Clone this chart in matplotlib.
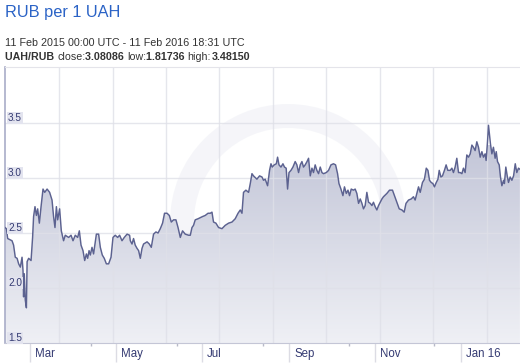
import numpy as np
import matplotlib
matplotlib.use('Agg')
import matplotlib.pyplot as plt
import matplotlib.dates as mdates
import matplotlib.transforms as mtransforms
from matplotlib.patches import Wedge
from matplotlib.colors import LinearSegmentedColormap

plt.rcParams['font.family'] = ['Liberation Sans', 'DejaVu Sans']

'''data: days after 11 Feb 2015 00:00 UTC and UAH/RUB rate'''
days = [0.0, 1.0, 1.9, 5.0, 6.1, 7.3, 8.6, 9.7, 10.9, 12.1, 12.8, 13.2, 13.7, 14.4, 15.2,
        15.7, 16.8, 18.5, 19.6, 20.3, 21.3, 22.3, 23.2, 24.4, 25.6, 27.0, 28.2, 29.9,
        31.7, 33.4, 34.5, 35.5, 36.5, 37.4, 38.8, 40.0, 41.6, 42.8, 45.2, 46.9, 48.3,
        49.9, 51.6, 52.8, 54.0, 55.4, 56.6, 57.8, 58.7, 59.7, 60.6, 61.8, 62.9, 64.9,
        66.5, 67.7, 69.1, 70.5, 72.0, 73.6, 75.3, 76.7, 78.3, 80.0, 81.4, 83.1, 84.7,
        86.7, 88.5, 89.0, 90.2, 91.3, 92.5, 93.8, 94.9, 96.1, 97.3, 98.4, 100.9, 102.5,
        103.9, 105.5, 107.2, 108.7, 110.3, 111.9, 113.3, 115.1, 116.7, 118.1, 119.7,
        121.4, 122.9, 124.5, 126.1, 128.0, 130.4, 131.6, 132.8, 133.9, 135.1, 137.1,
        138.7, 140.3, 142.2, 144.2, 145.8, 147.0, 148.1, 149.8, 151.7, 154.1, 156.4,
        158.8, 161.2, 163.5, 165.5, 167.1, 168.3, 169.4, 171.1, 173.0, 174.2, 175.4,
        176.5, 178.9, 180.8, 182.5, 183.6, 184.8, 186.5, 187.9, 188.9, 189.8, 191.2,
        192.7, 193.6, 194.6, 196.0, 197.4, 198.5, 199.7, 200.7, 201.7, 203.1, 204.5,
        206.1, 207.3, 208.5, 209.7, 210.9, 212.0, 213.2, 214.5, 215.6, 216.8, 218.0,
        219.1, 220.3, 221.5, 222.7, 223.9, 225.1, 226.2, 228.2, 229.8, 231.5, 233.3,
        234.8, 236.2, 237.2, 238.6, 240.0, 241.1, 242.4, 243.6, 244.7, 245.9, 247.5,
        248.7, 249.9, 251.1, 252.3, 253.5, 254.6, 255.8, 257.0, 258.2, 259.4, 260.6,
        261.7, 262.9, 264.1, 265.3, 266.5, 267.7, 268.8, 271.2, 273.1, 275.2, 276.6,
        278.3, 280.0, 281.9, 283.5, 284.8, 286.6, 288.5, 290.1, 291.3, 292.5, 293.7,
        294.9, 296.5, 297.9, 299.2, 300.4, 301.5, 302.7, 303.9, 305.0, 306.3, 307.5,
        308.4, 309.6, 310.7, 312.1, 313.3, 314.5, 316.2, 317.4, 318.5, 319.7, 320.9,
        322.1, 323.3, 324.5, 325.6, 326.8, 328.0, 329.2, 330.4, 331.6, 332.7, 333.9,
        335.1, 336.3, 337.5, 338.7, 339.8, 341.0, 341.7, 342.7, 343.4, 344.1, 344.8,
        345.8, 346.9, 348.1, 348.9, 349.8, 351.0, 351.9, 352.9, 354.1, 354.7, 355.7,
        356.7, 357.6, 358.8, 360.0, 361.2, 362.4, 363.5, 364.7, 365.7]
rate = [2.55, 2.54, 2.45, 2.43, 2.39, 2.28, 2.27, 2.22, 2.19, 2.28, 2.16, 1.92, 2.13, 1.89, 1.82,
        2.24, 2.27, 2.25, 2.46, 2.65, 2.74, 2.66, 2.72, 2.59, 2.74, 2.90, 2.87, 2.90,
        2.87, 2.80, 2.65, 2.55, 2.74, 2.62, 2.72, 2.52, 2.43, 2.48, 2.46, 2.48, 2.43,
        2.48, 2.46, 2.52, 2.39, 2.34, 2.25, 2.31, 2.27, 2.34, 2.30, 2.37, 2.31, 2.49,
        2.49, 2.37, 2.30, 2.27, 2.22, 2.22, 2.28, 2.46, 2.48, 2.46, 2.48, 2.43, 2.46,
        2.49, 2.48, 2.43, 2.40, 2.45, 2.39, 2.36, 2.34, 2.27, 2.36, 2.40, 2.42, 2.40,
        2.37, 2.49, 2.51, 2.50, 2.54, 2.59, 2.68, 2.68, 2.66, 2.60, 2.62,
        2.62, 2.55, 2.46, 2.52, 2.49, 2.48, 2.48, 2.55, 2.57, 2.62, 2.63,
        2.64, 2.65, 2.66, 2.68, 2.68, 2.69, 2.60, 2.59, 2.55, 2.54, 2.57,
        2.59, 2.60, 2.63, 2.68, 2.71, 2.68, 2.87, 2.89, 2.87, 2.95, 3.04,
        3.02, 2.99, 3.02, 3.01, 2.98, 2.99, 2.93, 3.07, 3.13, 3.10, 3.12,
        3.13, 3.19, 3.12, 3.10, 3.13, 3.10, 3.09, 2.90, 3.05, 3.07, 3.10,
        3.15, 3.12, 3.05, 3.12, 3.15, 3.10, 3.12, 3.15, 3.18, 3.02, 3.09,
        3.05, 3.12, 3.07, 3.04, 3.10, 3.05, 3.04, 3.05, 3.07, 3.12, 3.13,
        3.12, 3.04, 2.95, 2.90, 2.84, 2.92, 2.86, 2.89, 2.84, 2.90, 2.89,
        2.90, 2.86, 2.77, 2.81, 2.77, 2.72, 2.75, 2.87, 2.78, 2.77, 2.75,
        2.78, 2.74, 2.71, 2.75, 2.78, 2.81, 2.83, 2.86, 2.89, 2.89, 2.84,
        2.78, 2.72, 2.71, 2.69, 2.77, 2.80, 2.81, 2.83, 2.80, 2.86, 2.92,
        2.87, 2.96, 2.99, 3.09, 3.07, 2.98, 2.96, 2.95, 2.92, 2.96, 2.99,
        3.07, 3.01, 3.02, 3.07, 3.12, 3.07, 3.07, 3.09, 3.05, 3.10, 3.18,
        3.05, 3.05, 3.04, 3.09, 3.05, 3.21, 3.19, 3.22, 3.30, 3.28, 3.25,
        3.33, 3.28, 3.19, 3.24, 3.19, 3.22, 3.16, 3.33, 3.48, 3.39, 3.31,
        3.22, 3.28, 3.18, 3.24, 3.15, 3.12, 3.01, 2.93, 2.98, 2.95, 3.10,
        3.02, 2.96, 3.01, 2.98, 3.02, 3.13, 3.05, 3.09, 3.08]

y_ticks = [1.5, 2.0, 2.5, 3.0, 3.5]
month_ticks = ['2015-03-01', '2015-05-01', '2015-07-01', '2015-09-01', '2015-11-01', '2016-01-01']
month_labels = ['Mar', 'May', 'Jul', 'Sep', 'Nov', 'Jan 16']

start = np.datetime64('2015-02-11T00:00')
end = np.datetime64('2016-02-11T18:31')
t = start + (np.array(days) * 24 * 60).astype('timedelta64[m]')
t = mdates.date2num(t)
y = np.array(rate)

navy = '#343a72'
grid_c = '#e4e4ea'

fig = plt.figure(figsize=(5.2, 3.63), dpi=100)
ax = fig.add_axes([5/520, 20/363, 515/520, 276/363])
ax.set_facecolor('white')

# faint watermark ring
ring = Wedge((288, 363 - 222), 118, 0, 360, width=24, facecolor='#ecedf4', edgecolor='none',
             alpha=0.5, transform=mtransforms.IdentityTransform(), zorder=0.5)
ax.add_patch(ring)

# grid (drawn above the fill, faintly)
for v in y_ticks[1:]:
    ax.axhline(v, color='#dfe0e8', lw=1, zorder=2.5, alpha=0.8)
x0 = mdates.date2num(start)
for d in np.arange(38.4, 365, 37.98):
    ax.axvline(x0 + d, color='#dfe0e8', lw=1, zorder=2.5, alpha=0.8)

# gradient fill under the line
poly = ax.fill_between(t, y, 1.5, facecolor='none', edgecolor='none')
cmap = LinearSegmentedColormap.from_list('f', ['#eff0f5', '#c3c6d8'])
grad = np.linspace(0, 1, 256).reshape(-1, 1)
im = ax.imshow(grad, extent=[t[0], t[-1], 1.5, 3.3], origin='lower', aspect='auto',
               cmap=cmap, zorder=2)
im.set_clip_path(poly.get_paths()[0], transform=ax.transData)
ax.set_xlim(mdates.date2num(start), mdates.date2num(end))
ax.set_ylim(1.5, 4.01)

ax.plot(t, y, color='#5c6290', lw=1.05, zorder=3)

# spines
ax.spines['right'].set_visible(False)
ax.spines['top'].set_color(grid_c)
ax.spines['bottom'].set_color('#c4c6d6')
ax.spines['left'].set_color('#a9adc8')
ax.spines['left'].set_linewidth(1.2)

# y labels inside the plot
ax.set_yticks([])
ybl = mtransforms.blended_transform_factory(ax.transAxes, ax.transData)
for v in y_ticks:
    ax.text(0.006, v, '%.1f' % v, transform=ybl, ha='left', va='bottom', fontsize=7.2,
            color=navy, zorder=5,
            bbox=dict(boxstyle='square,pad=0.12', facecolor='#e3e4ef', edgecolor='none'))

# x ticks and labels
ax.set_xticks(mdates.date2num(np.array(month_ticks, dtype='datetime64[D]')))
ax.set_xticklabels([])
ax.tick_params(axis='x', which='major', length=14, width=1, color='#dcdce4', direction='out')
ax.set_xticks([x0 + d for d in [61, 122, 183, 244, 305]], minor=True)
ax.tick_params(axis='x', which='minor', length=2, width=1, color='#b8bac8', direction='out')
xbl = mtransforms.blended_transform_factory(ax.transData, ax.transAxes)
for d, lab in zip(month_ticks, month_labels):
    xp = mdates.date2num(np.datetime64(d))
    tr = mtransforms.offset_copy(xbl, fig=fig, x=5, y=-5, units='dots')
    ax.text(xp, 0, lab, transform=tr, ha='left', va='top', fontsize=8.3, color=navy)

# title and header lines
fig.text(5/520, 1 - 16.7/363, 'RUB per 1 UAH', fontsize=11.8, color='#2b63c6',
         ha='left', va='baseline')
fig.text(5/520, 1 - 46/363, '11 Feb 2015 00:00 UTC - 11 Feb 2016 18:31 UTC', fontsize=7.75,
         color='#333333', ha='left', va='baseline')

pieces = [('UAH/RUB ', 'bold'), ('close:', 'normal'), ('3.08086 ', 'bold'), ('low:', 'normal'),
          ('1.81736 ', 'bold'), ('high:', 'normal'), ('3.48150', 'bold')]
fig.canvas.draw()
r = fig.canvas.get_renderer()
xpx = 5
for txt, w in pieces:
    tt = fig.text(xpx/520, 1 - 60/363, txt, fontsize=7.7, fontweight=w, color='#333333',
                  ha='left', va='baseline')
    xpx += tt.get_window_extent(renderer=r).width

fig.savefig('out.png', dpi=100)
